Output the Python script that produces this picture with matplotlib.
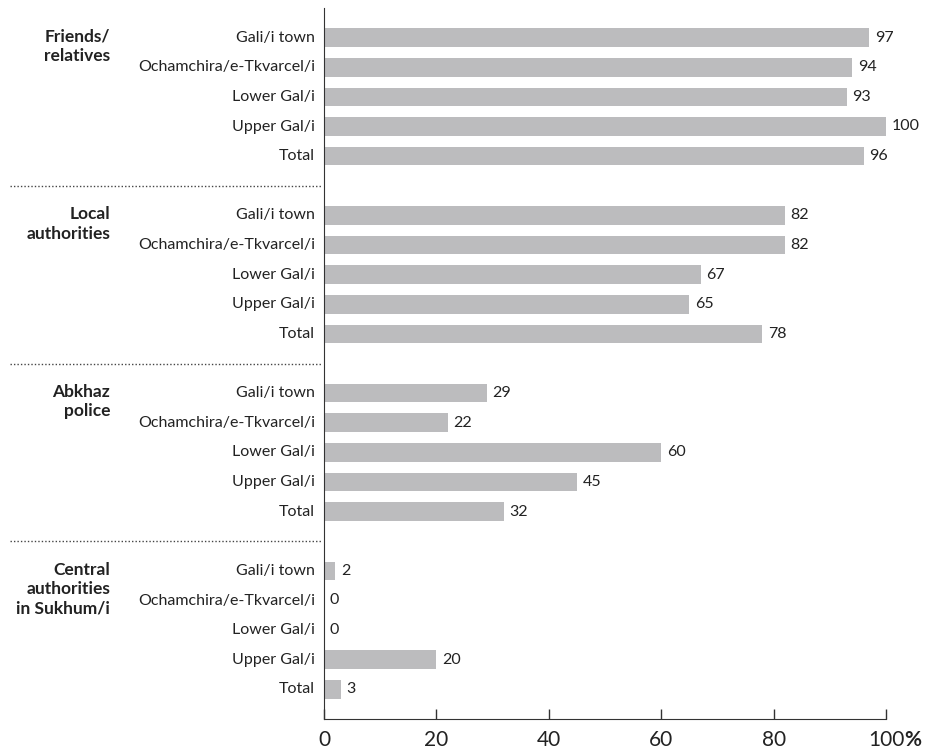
import matplotlib
matplotlib.use("Agg")
import matplotlib.pyplot as plt
import matplotlib.transforms as mtransforms

plt.rcParams['font.family'] = ['Lato', 'DejaVu Sans']

groups = ["Friends/\nrelatives", "Local\nauthorities", "Abkhaz\npolice",
          "Central\nauthorities\nin Sukhum/i"]
regions = ["Gali/i town", "Ochamchira/e-Tkvarcel/i", "Lower Gal/i", "Upper Gal/i", "Total"]
friends_relatives = [97, 94, 93, 100, 96]
local_authorities = [82, 82, 67, 65, 78]
abkhaz_police = [29, 22, 60, 45, 32]
central_authorities = [2, 0, 0, 20, 3]
series = [friends_relatives, local_authorities, abkhaz_police, central_authorities]
xticks = [0, 20, 40, 60, 80, 100]

fig = plt.figure(figsize=(9.3, 7.51), dpi=100)
ax = fig.add_axes([324/930, 1-719/751, (886-324)/930, (719-8)/751])

bar_color = "#bcbcbe"
text_color = "#222222"
fs = 11.5
slot = 6
trans = mtransforms.blended_transform_factory(fig.transFigure, ax.transData)
for g, (gname, vals) in enumerate(zip(groups, series)):
    for k, (reg, v) in enumerate(zip(regions, vals)):
        y = g*slot + k
        ax.barh(y, v, height=0.63, color=bar_color, edgecolor='none')
        ax.text(v + 1.0, y, str(v), va='center', ha='left', fontsize=fs, color=text_color)
        ax.text(315/930, y, reg, va='center', ha='right', fontsize=fs, color=text_color,
                transform=trans, clip_on=False)
    ax.text(110/930, g*slot - 0.3, gname, transform=trans, ha='right', va='top',
            fontsize=12.5, fontweight='bold', color=text_color, linespacing=1.25,
            clip_on=False)
    if g > 0:
        ax.plot([10/930, 322/930], [g*slot - 1, g*slot - 1], transform=trans,
                color='#444444', linestyle=(0, (1, 1.5)), linewidth=1.0, clip_on=False)

ax.set_xlim(0, 100)
ax.set_ylim(23, -1)
ax.set_yticks([])
ax.set_xticks(xticks)
ax.set_xticklabels([str(t) for t in xticks], fontsize=15, color=text_color)
ax.tick_params(axis='x', direction='in', length=7, width=1, color='#333333', pad=8)
for s in ['top', 'right']:
    ax.spines[s].set_visible(False)
ax.spines['left'].set_color('#333333')
ax.spines['bottom'].set_color('#333333')

fig.canvas.draw()
lab = ax.get_xticklabels()[-1]
bb = lab.get_window_extent()
x_fig = bb.x1 / fig.bbox.width
y_fig = bb.y0 / fig.bbox.height
fig.text(x_fig, y_fig, "%", fontsize=15, fontweight='bold', ha='left', va='bottom',
         color=text_color)

fig.savefig("out.png", dpi=100)
